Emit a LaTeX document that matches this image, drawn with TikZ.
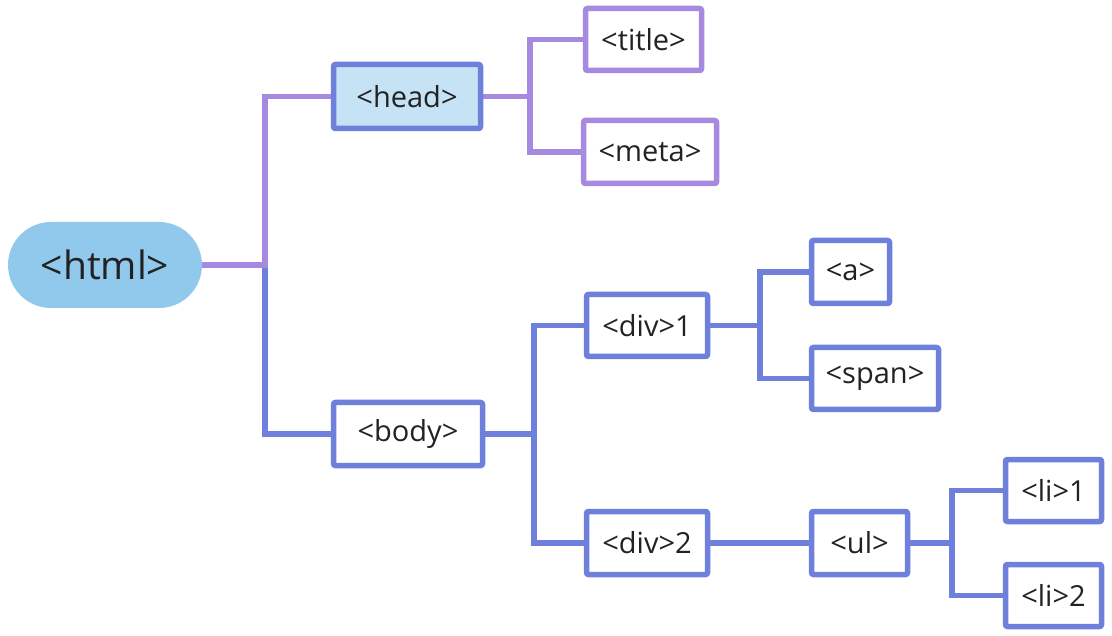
\documentclass[tikz,border=0pt]{standalone}
\usepackage{fontspec}
\setmainfont{Open Sans}
\usetikzlibrary{backgrounds}
\definecolor{pcol}{HTML}{A68AE0}
\definecolor{bcol}{HTML}{6E80DC}
\definecolor{htmlfill}{HTML}{90C9EC}
\definecolor{headfill}{HTML}{C6E3F6}
\definecolor{txt}{HTML}{222222}
\begin{document}
\begin{tikzpicture}[x=1pt,y=-1pt,
  box/.style={draw, line width=5.5pt, rounded corners=2pt, fill=white, inner sep=0pt,
    text=txt, font=\fontsize{29}{34}\selectfont},
  pbox/.style={box, draw=pcol},
  bbox/.style={box, draw=bcol},
  pl/.style={draw=pcol, line width=5.5pt},
  bl/.style={draw=bcol, line width=5.5pt},
]
\useasboundingbox (0,0) rectangle (1112,636);
\node[fill=htmlfill, rounded corners=43pt, minimum width=194pt, minimum height=86pt, inner sep=0pt,
  text=txt, font=\fontsize{39}{46}\selectfont] (html) at (105,265) {<html>};
\node[bbox, fill=headfill, minimum width=147pt, minimum height=64pt] (head) at (407,96.5) {<head>};
\node[pbox, minimum width=116pt, minimum height=62pt] (title) at (643.5,39.5) {<title>};
\node[pbox, minimum width=133pt, minimum height=63pt] (meta) at (650,152) {<meta>};
\node[bbox, minimum width=149pt, minimum height=63pt] (body) at (408,434) {<body>};
\node[bbox, minimum width=121pt, minimum height=62pt] (div1) at (647,325.5) {<div>1};
\node[bbox, minimum width=121pt, minimum height=63pt] (div2) at (647,543) {<div>2};
\node[bbox, minimum width=78pt, minimum height=63pt] (a) at (850.5,272) {<a>};
\node[bbox, minimum width=127pt, minimum height=62pt] (span) at (875,378.5) {<span>};
\node[bbox, minimum width=96pt, minimum height=63pt] (ul) at (859.5,543) {<ul>};
\node[bbox, minimum width=96pt, minimum height=62pt] (li1) at (1053.5,490.5) {<li>1};
\node[bbox, minimum width=96pt, minimum height=62pt] (li2) at (1053.5,595.5) {<li>2};
\coordinate (jh) at (265,265);
\coordinate (jhead) at (530,96.5);
\coordinate (jbody) at (534,434);
\coordinate (jdiv1) at (760,325.5);
\coordinate (jul) at (952,543);
\begin{pgfonlayer}{background}
\path[bl] (jh) |- (body.west);
\path[pl] (html.east) -- (jh) |- (head.west);
\path[pl] (head.east) -- (jhead) |- (title.west);
\path[pl] (jhead) |- (meta.west);
\path[bl] (body.east) -- (jbody) |- (div1.west);
\path[bl] (jbody) |- (div2.west);
\path[bl] (div1.east) -- (jdiv1) |- (a.west);
\path[bl] (jdiv1) |- (span.west);
\path[bl] (div2.east) -- (ul.west);
\path[bl] (ul.east) -- (jul) |- (li1.west);
\path[bl] (jul) |- (li2.west);
\end{pgfonlayer}
\end{tikzpicture}
\end{document}
